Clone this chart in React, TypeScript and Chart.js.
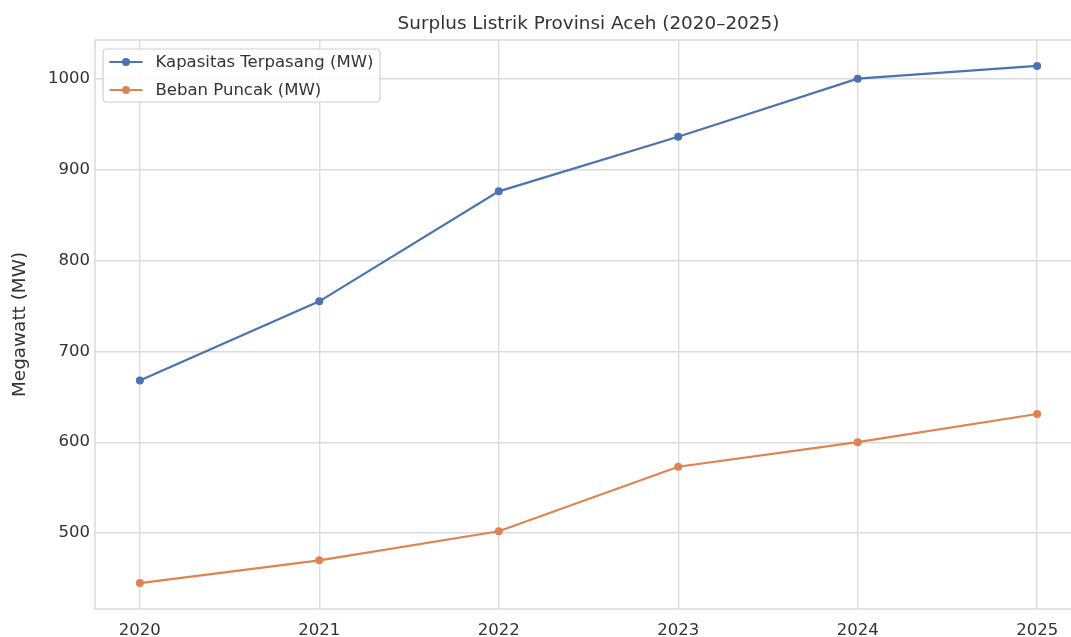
import { useEffect, useRef } from 'react';
import { Chart, registerables } from 'chart.js';

Chart.register(...registerables);

const years = [2020, 2021, 2022, 2023, 2024, 2025];
const kapasitas = [668, 755, 876, 936, 1000, 1014];
const beban = [445, 470, 502, 573, 600, 631];
const yTicks = [500, 600, 700, 800, 900, 1000];
const seriesLabels = ['Kapasitas Terpasang (MW)', 'Beban Puncak (MW)'];
const seriesColors = ['#4C72B0', '#DD8452'];
const titleText = 'Surplus Listrik Provinsi Aceh (2020–2025)';
const yTitle = 'Megawatt (MW)';

const FONT = "'DejaVu Sans', 'Liberation Sans', sans-serif";
const TEXT = '#333333';
const GRID = '#dcdcdc';

const framePlugin = {
  id: 'frame',
  beforeDatasetsDraw(chart: any) {
    const { ctx, chartArea } = chart;
    ctx.save();
    ctx.strokeStyle = GRID;
    ctx.lineWidth = 1.6;
    ctx.strokeRect(chartArea.left, chartArea.top, chartArea.right - chartArea.left, chartArea.bottom - chartArea.top);
    ctx.restore();
  },
};

const titlePlugin = {
  id: 'axesTitle',
  afterDraw(chart: any) {
    const { ctx, chartArea } = chart;
    ctx.save();
    ctx.font = `18.4px ${FONT}`;
    ctx.fillStyle = TEXT;
    ctx.textAlign = 'center';
    ctx.textBaseline = 'middle';
    ctx.fillText(titleText, (chartArea.left + chartArea.right) / 2, 24);
    ctx.restore();
  },
};

const legendPlugin = {
  id: 'mplLegend',
  afterDraw(chart: any) {
    const { ctx, chartArea } = chart;
    const fs = 16.5;
    ctx.save();
    ctx.font = `${fs}px ${FONT}`;
    const widths = seriesLabels.map((l) => ctx.measureText(l).width);
    const maxW = Math.max(...widths);
    const x0 = chartArea.left + 8;
    const y0 = chartArea.top + 9;
    const pad = 6.5;
    const handleLen = 33;
    const handleGap = 13;
    const rowH = 28;
    const w = pad + handleLen + handleGap + maxW + pad;
    const h = 53;
    const r = 3.5;
    ctx.beginPath();
    ctx.moveTo(x0 + r, y0);
    ctx.lineTo(x0 + w - r, y0);
    ctx.arcTo(x0 + w, y0, x0 + w, y0 + r, r);
    ctx.lineTo(x0 + w, y0 + h - r);
    ctx.arcTo(x0 + w, y0 + h, x0 + w - r, y0 + h, r);
    ctx.lineTo(x0 + r, y0 + h);
    ctx.arcTo(x0, y0 + h, x0, y0 + h - r, r);
    ctx.lineTo(x0, y0 + r);
    ctx.arcTo(x0, y0, x0 + r, y0, r);
    ctx.closePath();
    ctx.fillStyle = 'rgba(255,255,255,0.85)';
    ctx.fill();
    ctx.strokeStyle = '#d0d0d0';
    ctx.lineWidth = 1.2;
    ctx.stroke();
    seriesLabels.forEach((label, i) => {
      const cy = y0 + 13 + i * rowH;
      const hx = x0 + pad;
      ctx.strokeStyle = seriesColors[i];
      ctx.lineWidth = 2.2;
      ctx.beginPath();
      ctx.moveTo(hx, cy);
      ctx.lineTo(hx + handleLen, cy);
      ctx.stroke();
      ctx.fillStyle = seriesColors[i];
      ctx.beginPath();
      ctx.arc(hx + handleLen / 2, cy, 4, 0, Math.PI * 2);
      ctx.fill();
      ctx.fillStyle = TEXT;
      ctx.textBaseline = 'middle';
      ctx.textAlign = 'left';
      ctx.fillText(label, hx + handleLen + handleGap, cy + 1);
    });
    ctx.restore();
  },
};

export default function App() {
  const ref = useRef<HTMLCanvasElement | null>(null);

  useEffect(() => {
    document.body.style.margin = '0';
    const canvas = ref.current;
    if (!canvas) return;
    const chart = new Chart(canvas, {
      type: 'line',
      data: {
        datasets: [
          {
            label: seriesLabels[0],
            data: years.map((yr, i) => ({ x: yr, y: kapasitas[i] })),
            borderColor: seriesColors[0],
            backgroundColor: seriesColors[0],
            borderWidth: 2.2,
            pointRadius: 4,
            pointBorderWidth: 0,
            pointBackgroundColor: seriesColors[0],
            tension: 0,
          },
          {
            label: seriesLabels[1],
            data: years.map((yr, i) => ({ x: yr, y: beban[i] })),
            borderColor: seriesColors[1],
            backgroundColor: seriesColors[1],
            borderWidth: 2.2,
            pointRadius: 4,
            pointBorderWidth: 0,
            pointBackgroundColor: seriesColors[1],
            tension: 0,
          },
        ],
      },
      options: {
        responsive: false,
        animation: false,
        layout: { padding: { left: 0, right: 94, top: 40, bottom: 0 } },
        plugins: {
          legend: { display: false },
          tooltip: { enabled: false },
          title: { display: false },
        },
        scales: {
          x: {
            type: 'linear',
            min: 2019.75,
            max: 2025.25,
            afterBuildTicks(scale: any) {
              scale.ticks = years.map((v) => ({ value: v }));
            },
            afterFit(scale: any) {
              scale.height = 28;
            },
            ticks: {
              color: TEXT,
              font: { family: FONT, size: 16.5 },
              padding: 12,
              maxRotation: 0,
              autoSkip: false,
              callback: (v: any) => String(v),
            },
            grid: { color: GRID, lineWidth: 1.4, drawTicks: false },
            border: { display: false },
          },
          y: {
            type: 'linear',
            min: 416.5,
            max: 1042.5,
            afterBuildTicks(scale: any) {
              scale.ticks = yTicks.map((v) => ({ value: v }));
            },
            afterFit(scale: any) {
              scale.width = 95;
            },
            ticks: {
              color: TEXT,
              font: { family: FONT, size: 16.5 },
              padding: 5,
              autoSkip: false,
              callback: (v: any) => String(v),
            },
            title: {
              display: true,
              text: yTitle,
              color: TEXT,
              font: { family: FONT, size: 18.4, lineHeight: 1.2 },
              padding: { top: 9, bottom: 0 },
            },
            grid: { color: GRID, lineWidth: 1.4, drawTicks: false },
            border: { display: false },
          },
        },
      },
      plugins: [framePlugin, legendPlugin, titlePlugin],
    });
    return () => chart.destroy();
  }, []);

  return (
    <div style={{ position: 'absolute', left: 0, top: 0, width: 1071, height: 637, overflow: 'hidden', background: '#fff' }}>
      <canvas ref={ref} width={1176} height={637} style={{ display: 'block' }} />
    </div>
  );
}
